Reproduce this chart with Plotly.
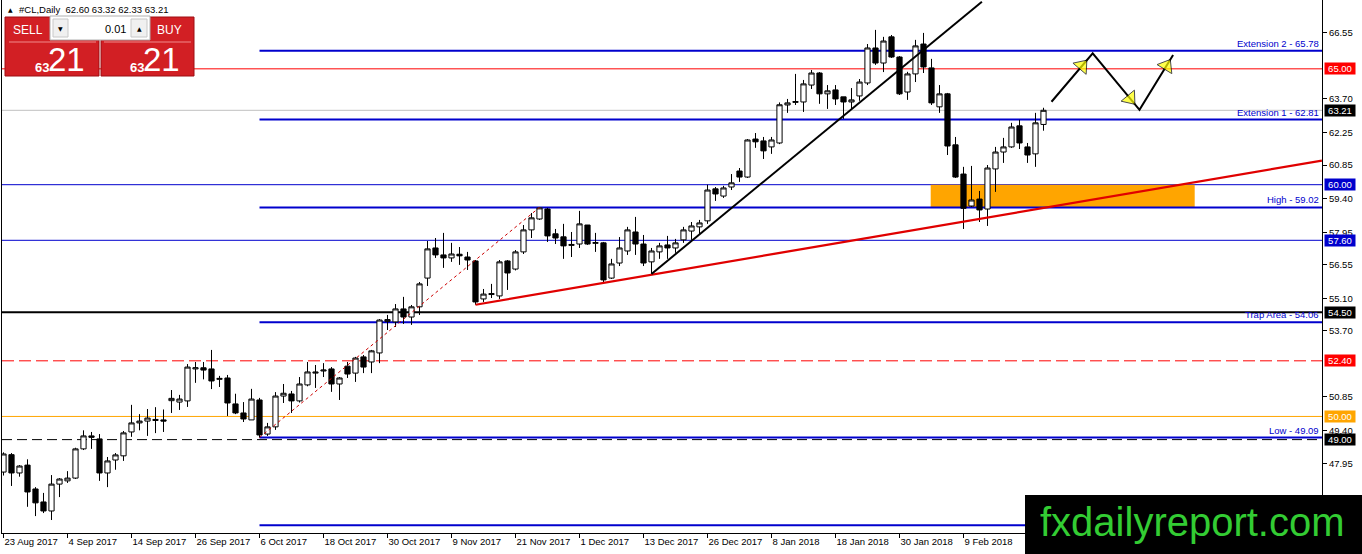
import plotly.graph_objects as go
import pandas as pd

# ---------------- data ----------------
dates = [d for d in pd.bdate_range("2017-08-23", "2018-02-23")
         if d.strftime("%Y-%m-%d") not in ("2017-12-25", "2018-01-01")]
dates = [d.strftime("%Y-%m-%d") for d in dates]

opens = [47.60, 48.35, 47.56, 47.90, 46.87, 46.31, 45.92, 47.08, 47.22, 47.34,
         48.60, 49.16, 49.03, 47.56, 48.12, 48.30, 49.33, 49.72, 49.80, 49.87,
         49.85, 50.68, 50.62, 50.67, 52.05, 52.10, 52.05, 51.60, 51.66, 50.54,
         50.15, 49.85, 50.71, 49.24, 49.55, 50.88, 50.97, 50.67, 51.36, 51.87,
         51.96, 52.05, 51.40, 52.17, 51.87, 52.57, 52.35, 52.74, 54.10, 54.08,
         54.64, 54.29, 54.73, 55.97, 57.27, 56.97, 56.84, 57.00, 56.88, 56.71,
         55.07, 55.26, 55.20, 56.71, 56.36, 57.10, 58.05, 58.52, 58.95, 57.88,
         57.75, 57.38, 57.44, 58.26, 57.47, 57.49, 55.97, 56.62, 57.14, 57.96,
         57.44, 56.67, 57.10, 57.40, 57.27, 57.62, 58.00, 58.18, 58.44, 59.82,
         59.51, 59.90, 60.59, 60.33, 61.97, 61.89, 61.63, 61.80, 63.44, 63.55,
         63.57, 64.30, 64.82, 63.92, 64.09, 63.79, 63.57, 63.83, 64.39, 65.90,
         65.25, 66.38, 65.51, 64.00, 64.78, 66.07, 65.04, 63.36, 63.92, 61.72,
         60.46, 59.08, 59.38, 58.95, 60.68, 61.41, 61.63, 62.54, 61.63, 61.33,
         62.60]
highs = [48.45, 48.42, 47.90, 48.15, 46.95, 46.70, 47.47, 47.34, 47.64, 48.65,
         49.40, 49.33, 49.24, 48.25, 48.42, 49.37, 50.50, 50.10, 50.32, 50.40,
         50.30, 51.14, 50.93, 52.26, 52.35, 52.35, 52.87, 51.75, 51.79, 50.98,
         50.62, 51.19, 50.80, 49.72, 51.05, 51.40, 51.10, 51.70, 52.35, 52.22,
         52.30, 52.13, 51.70, 52.35, 52.57, 52.65, 52.87, 54.20, 54.38, 54.85,
         55.16, 54.81, 55.80, 57.57, 57.70, 57.92, 57.49, 57.31, 57.10, 56.75,
         55.50, 55.72, 56.75, 56.75, 57.18, 58.26, 58.78, 59.02, 59.00, 58.09,
         58.31, 57.96, 58.87, 58.26, 57.92, 57.53, 56.80, 57.74, 58.18, 58.61,
         57.83, 57.27, 57.49, 57.79, 57.66, 58.18, 58.39, 58.48, 60.00, 59.90,
         59.95, 60.46, 60.72, 61.97, 62.23, 62.06, 62.06, 63.55, 63.70, 64.78,
         64.52, 64.95, 64.86, 64.30, 64.30, 63.79, 64.17, 64.56, 66.07, 66.68,
         66.38, 66.46, 65.55, 64.87, 66.25, 66.55, 65.43, 64.30, 63.96, 62.06,
         60.77, 60.81, 59.73, 60.85, 61.63, 62.02, 62.67, 62.80, 61.80, 63.10,
         63.32]
lows = [47.45, 47.00, 47.40, 46.10, 45.70, 45.83, 45.53, 46.52, 47.13, 47.30,
        48.55, 48.60, 47.22, 46.95, 47.70, 48.08, 49.12, 49.40, 49.16, 49.28,
        49.33, 50.15, 50.28, 50.41, 51.45, 51.60, 51.18, 51.27, 50.02, 50.10,
        49.76, 49.85, 49.09, 49.16, 49.42, 50.58, 50.15, 50.60, 51.30, 51.23,
        51.70, 51.06, 50.71, 51.66, 51.49, 51.87, 51.87, 52.30, 53.73, 53.86,
        53.99, 53.95, 54.38, 55.63, 56.84, 56.41, 56.67, 56.54, 56.32, 54.82,
        54.94, 55.11, 55.07, 55.46, 56.30, 57.01, 57.70, 58.48, 57.53, 57.44,
        56.80, 56.88, 57.27, 57.40, 57.10, 55.80, 55.93, 56.49, 56.97, 56.97,
        56.49, 56.15, 56.80, 56.80, 57.06, 57.49, 57.62, 57.83, 58.31, 59.30,
        59.43, 59.77, 60.12, 60.29, 61.59, 61.11, 61.33, 61.75, 63.10, 63.44,
        63.14, 64.13, 63.49, 63.27, 63.44, 62.84, 63.27, 63.62, 64.30, 65.17,
        64.86, 65.47, 63.87, 63.66, 64.43, 64.82, 63.44, 63.10, 61.28, 60.29,
        58.09, 59.04, 58.39, 58.22, 59.69, 60.94, 61.59, 61.54, 60.94, 60.77,
        62.33]
closes = [48.38, 47.56, 47.86, 46.74, 46.27, 45.92, 47.08, 47.30, 47.34, 48.60,
          49.16, 49.10, 47.56, 48.08, 48.34, 49.29, 49.72, 49.80, 49.93, 49.83,
          49.80, 50.78, 50.75, 52.13, 52.10, 52.00, 51.53, 51.64, 50.58, 50.15,
          49.89, 50.75, 49.20, 49.55, 50.88, 51.00, 50.67, 51.40, 51.92, 51.91,
          52.00, 51.40, 51.66, 51.83, 52.52, 52.13, 52.83, 54.16, 54.18, 54.64,
          54.29, 54.73, 55.72, 57.23, 56.97, 56.84, 57.01, 56.93, 56.75, 54.94,
          55.28, 55.30, 56.67, 56.19, 57.10, 58.05, 58.57, 59.00, 57.79, 57.70,
          57.36, 57.42, 58.31, 57.44, 57.50, 55.89, 56.58, 57.27, 58.05, 57.44,
          56.62, 57.14, 57.36, 57.27, 57.49, 58.05, 58.22, 58.35, 59.77, 59.60,
          59.86, 60.08, 60.33, 61.93, 61.85, 61.46, 61.93, 63.45, 63.53, 63.59,
          64.35, 64.82, 63.92, 64.05, 63.70, 63.57, 63.66, 64.43, 65.90, 65.25,
          66.20, 65.51, 63.92, 64.78, 65.99, 65.08, 63.53, 63.92, 61.67, 60.33,
          58.98, 59.34, 58.91, 60.72, 61.41, 61.63, 62.49, 61.80, 61.28, 62.67,
          63.21]

tick_labels = ["23 Aug 2017", "4 Sep 2017", "14 Sep 2017", "26 Sep 2017",
               "6 Oct 2017", "18 Oct 2017", "30 Oct 2017", "9 Nov 2017",
               "21 Nov 2017", "1 Dec 2017", "13 Dec 2017", "26 Dec 2017",
               "8 Jan 2018", "18 Jan 2018", "30 Jan 2018", "9 Feb 2018"]
tick_dates = ["2017-08-23", "2017-09-04", "2017-09-14", "2017-09-26",
              "2017-10-06", "2017-10-18", "2017-10-30", "2017-11-09",
              "2017-11-21", "2017-12-01", "2017-12-13", "2017-12-26",
              "2018-01-08", "2018-01-18", "2018-01-30", "2018-02-09"]
price_ticks = [66.55, 63.70, 62.25, 60.85, 59.40, 57.95, 56.55, 55.10,
               53.70, 50.85, 49.40, 47.95]

level_prices = [65.00, 63.21, 60.00, 57.60, 54.50, 52.40, 50.00, 49.00]

fib_names = ["Extension 2", "Extension 1", "High", "Trap Area", "Low", ""]
fib_prices = [65.78, 62.81, 59.02, 54.06, 49.09, 45.30]
fib_start_bar = 32

fib_base_bars = [32, 67]
fib_base_prices = [49.09, 59.02]
red_trend_bars = [59, 164.8]
red_trend_prices = [54.82, 61.04]
black_trend_bars = [81, 122.3]
black_trend_prices = [56.15, 67.89]
zone_bars = [115.9, 148.9]
zone_prices = [59.02, 60.00]
arrow_bars = [131.0, 136.15, 142.0, 146.2]
arrow_prices = [63.58, 65.67, 63.23, 65.60]

symbol = "#CL,Daily"
lot_size = "0.01"
watermark = "fxdailyreport.com"

# ---------------- geometry helpers ----------------
W, H = 1362, 554
ML, MR, MT, MB = 2, 40, 0, 21
PW, PH = W - ML - MR, H - MT - MB
FONT = "Liberation Sans, Arial, sans-serif"
BLUE = "#0000CD"


def pxx(px):
    return (px - ML) / PW


def pxy(py):
    return (MT + PH - py) / PH


x = list(range(len(dates)))
tickvals = [dates.index(d) for d in tick_dates]

fig = go.Figure()

shapes = []
annotations = []

# orange zone
shapes.append(dict(type="rect", xref="x", yref="y", x0=zone_bars[0], x1=zone_bars[1],
                   y0=zone_prices[0], y1=zone_prices[1], fillcolor="#FFA500",
                   line=dict(width=0), layer="below"))

# horizontal levels (full width)
level_style = [
    dict(color="#FF0000", width=1, dash="solid", box="#FF0000"),
    dict(color="#C0C0C0", width=1, dash="solid", box="#000000"),
    dict(color=BLUE, width=1, dash="solid", box=BLUE),
    dict(color=BLUE, width=1, dash="solid", box=BLUE),
    dict(color="#000000", width=2, dash="solid", box="#000000"),
    dict(color="#FF0000", width=1, dash="12px,5px", box="#FF0000"),
    dict(color="#FFA500", width=1, dash="solid", box="#FFA500"),
    dict(color="#000000", width=1, dash="10px,5px", box="#000000"),
]
for p, st in zip(level_prices, level_style):
    shapes.append(dict(type="line", xref="paper", yref="y", x0=0, x1=1, y0=p, y1=p,
                       line=dict(color=st["color"], width=st["width"], dash=st["dash"]),
                       layer="below"))
    annotations.append(dict(xref="paper", yref="y", x=1, y=p, xanchor="left", xshift=2,
                            yanchor="middle", text=f"{p:.2f}", showarrow=False,
                            bgcolor=st["box"], width=30, height=11, borderpad=0,
                            font=dict(family=FONT, size=9.5, color="white")))

# fibonacci levels
for name, p in zip(fib_names, fib_prices):
    shapes.append(dict(type="line", xref="x", yref="y", x0=fib_start_bar, x1=164.8125,
                       y0=p, y1=p, line=dict(color=BLUE, width=2), layer="below"))
    if name:
        annotations.append(dict(xref="paper", yref="y", x=1, y=p, xanchor="right", xshift=-1,
                                yanchor="bottom", yshift=0, text=f"{name} - {p:.2f}",
                                showarrow=False,
                                font=dict(family=FONT, size=9.5, color=BLUE)))

# trend lines
fig.add_trace(go.Scatter(x=fib_base_bars, y=fib_base_prices, mode="lines",
                         line=dict(color="#CC0000", width=1, dash="3px,3px"),
                         hoverinfo="skip"))
fig.add_trace(go.Scatter(x=red_trend_bars, y=red_trend_prices, mode="lines",
                         line=dict(color="#E00000", width=2.2), hoverinfo="skip"))
fig.add_trace(go.Scatter(x=black_trend_bars, y=black_trend_prices, mode="lines",
                         line=dict(color="#000000", width=2), hoverinfo="skip"))

# candles
fig.add_trace(go.Candlestick(
    x=x, open=opens, high=highs, low=lows, close=closes,
    increasing=dict(line=dict(color="black", width=1), fillcolor="white"),
    decreasing=dict(line=dict(color="black", width=1), fillcolor="black"),
    whiskerwidth=0, hoverinfo="skip", showlegend=False))

# projection arrows
fig.add_trace(go.Scatter(x=arrow_bars, y=arrow_prices, mode="lines",
                         line=dict(color="black", width=2), hoverinfo="skip"))
head_frac = [0.74, 0.80, 0.80]
for i, f in enumerate(head_frac):
    x0, x1 = arrow_bars[i], arrow_bars[i + 1]
    y0, y1 = arrow_prices[i], arrow_prices[i + 1]
    hx = x0 + (x1 - x0) * f
    hy = y0 + (y1 - y0) * f
    fig.add_trace(go.Scatter(
        x=[x0, hx], y=[y0, hy], mode="markers", hoverinfo="skip",
        marker=dict(symbol="triangle-up", size=[0, 15], color="#FFFF00",
                    angleref="previous", line=dict(color="black", width=[0, 1]))))

# header text
last = len(closes) - 1
annotations.append(dict(xref="paper", yref="paper", x=pxx(6), y=pxy(10), xanchor="left",
                        yanchor="middle", text="▲", showarrow=False,
                        font=dict(family="DejaVu Sans", size=6, color="black")))
annotations.append(dict(xref="paper", yref="paper", x=pxx(17), y=pxy(10), xanchor="left",
                        yanchor="middle", showarrow=False,
                        text=f"{symbol}  {opens[last]:.2f} {highs[last]:.2f} {lows[last]:.2f} {closes[last]:.2f}",
                        font=dict(family=FONT, size=9.5, color="black")))

# trade panel
RED = "#D21F24"
DRED = "#9E0F12"


def rect(x0, y0, x1, y1, fill, line="rgba(0,0,0,0)", lw=1):
    shapes.append(dict(type="rect", xref="paper", yref="paper", x0=pxx(x0), x1=pxx(x1),
                       y0=pxy(y1), y1=pxy(y0), fillcolor=fill,
                       line=dict(color=line, width=lw), layer="above"))


def text(px, py, s, size, color, anchor="center", family=FONT):
    annotations.append(dict(xref="paper", yref="paper", x=pxx(px), y=pxy(py), xanchor=anchor,
                            yanchor="middle", text=s, showarrow=False,
                            font=dict(family=family, size=size, color=color)))


rect(5, 17, 99, 76, RED, DRED)
rect(101, 17, 194, 76, RED, DRED)
rect(50, 16, 150, 40, "white", "#B0B0B0")
rect(53, 19, 68, 37, "#F0F0F0", "#C8C8C8")
rect(131, 19, 147, 37, "#F0F0F0", "#C8C8C8")
shapes.append(dict(type="line", xref="paper", yref="paper", x0=pxx(9), x1=pxx(96),
                   y0=pxy(42), y1=pxy(42), line=dict(color="#F08A8A", width=1), layer="above"))
shapes.append(dict(type="line", xref="paper", yref="paper", x0=pxx(104), x1=pxx(191),
                   y0=pxy(42), y1=pxy(42), line=dict(color="#F08A8A", width=1), layer="above"))
text(28, 30, "SELL", 12, "white")
text(170, 30, "BUY", 12, "white")
text(60.5, 28, "▼", 6, "black", family="DejaVu Sans")
text(139, 28, "▲", 6, "black", family="DejaVu Sans")
text(128, 29, lot_size, 11, "black", anchor="right")
big = f"{closes[last]:.2f}".split(".")
text(41.5, 67, f"<b>{big[0]}</b>", 13, "white")
text(66, 59, big[1], 33, "white")
text(136.5, 67, f"<b>{big[0]}</b>", 13, "white")
text(161, 59, big[1], 33, "white")

# watermark
shapes.append(dict(type="rect", xref="paper", yref="paper", x0=pxx(1025), x1=pxx(1362),
                   y0=pxy(554), y1=pxy(495), fillcolor="black", line=dict(width=0),
                   layer="above"))
annotations.append(dict(xref="paper", yref="paper", x=pxx(1192), y=pxy(522),
                        xanchor="center", yanchor="middle", text=watermark, showarrow=False,
                        font=dict(family=FONT, size=40, color="#33CC33")))

fig.update_layout(
    width=W, height=H, margin=dict(l=ML, r=MR, t=MT, b=MB),
    paper_bgcolor="white", plot_bgcolor="white", showlegend=False,
    boxgap=0.35, boxgroupgap=0,
    shapes=shapes, annotations=annotations,
    xaxis=dict(range=[-0.1875, 164.8125], showgrid=False, zeroline=False,
               showline=True, linecolor="black", linewidth=1,
               ticks="outside", ticklen=4, tickcolor="black",
               tickvals=tickvals, ticktext=tick_labels,
               ticklabelposition="outside right",
               tickfont=dict(family=FONT, size=9.5, color="black"),
               rangeslider=dict(visible=False), fixedrange=True),
    yaxis=dict(side="right", range=[44.97, 67.97], showgrid=False, zeroline=False,
               showline=True, mirror=True, linecolor="black", linewidth=1,
               ticks="outside", ticklen=4, tickcolor="black",
               tickvals=price_ticks, ticktext=[f"{v:.2f}" for v in price_ticks],
               tickfont=dict(family=FONT, size=9.5, color="black"), fixedrange=True),
)

fig.write_html("out.html", config={"displayModeBar": False},
               post_script="document.body.style.margin='0';document.body.style.overflow='hidden';")
